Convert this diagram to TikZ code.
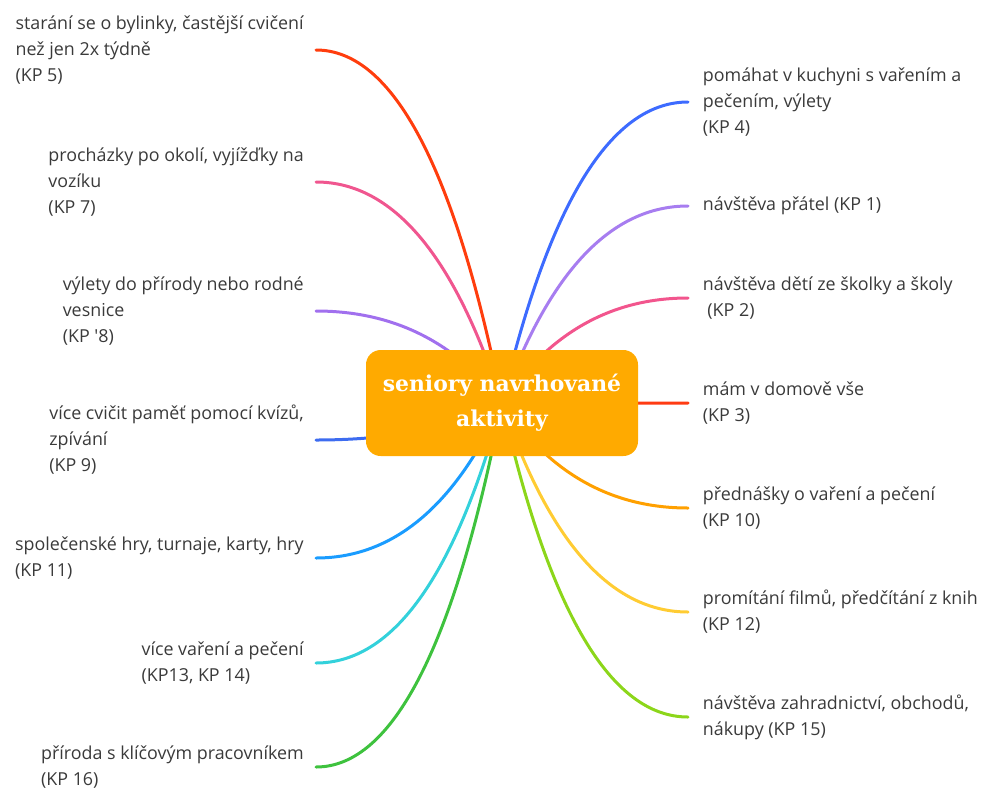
\documentclass[tikz,border=0pt]{standalone}
\usepackage{fontspec}
\setmainfont{Open Sans}
\newfontfamily\rootfont{DejaVu Serif}
\usetikzlibrary{positioning, calc, backgrounds}

\definecolor{rootorange}{HTML}{FFAA00}
\definecolor{leaftext}{HTML}{3A3A3A}
% branch colours, one per leaf
\definecolor{cKPv}{HTML}{FF3D0D}
\definecolor{cKPvii}{HTML}{F0568F}
\definecolor{cKPviii}{HTML}{A170EE}
\definecolor{cKPix}{HTML}{3D6CF0}
\definecolor{cKPxi}{HTML}{1A9CFF}
\definecolor{cKPxiii}{HTML}{33D1DB}
\definecolor{cKPxvi}{HTML}{3EC23E}
\definecolor{cKPiv}{HTML}{3D6BFF}
\definecolor{cKPi}{HTML}{A77DF0}
\definecolor{cKPii}{HTML}{F2558D}
\definecolor{cKPiii}{HTML}{FF3B12}
\definecolor{cKPx}{HTML}{FFA000}
\definecolor{cKPxii}{HTML}{FFCC33}
\definecolor{cKPxv}{HTML}{8CD61A}

\begin{document}
\begin{tikzpicture}[
  x=0.75pt, y=-0.75pt,
  font=\fontsize{13.4pt}{19.5pt}\selectfont,
  root/.style={fill=rootorange, rounded corners=11pt, minimum width=204pt,
    minimum height=79.5pt, text=white, align=center,
    font=\rootfont\bfseries\fontsize{16.4pt}{26pt}\selectfont},
  leafL/.style={anchor=east, align=left, inner xsep=9pt, inner ysep=0pt, text=leaftext},
  leafR/.style={anchor=west, align=left, inner xsep=11pt, inner ysep=0pt, text=leaftext},
  branch/.style={line width=2.25pt, line cap=round},
]
\useasboundingbox (0,0) rectangle (981,789);

% ---- 1. central topic ----
\node[root] (root) at (502,403) {\raisebox{-2pt}{seniory navrhované}\\\raisebox{-2pt}{aktivity}};

% ---- 2. left leaves (text ends where the branch ends) ----
\node[leafL] (kp5)  at (316,50)  {starání se o bylinky, častější cvičení\\než jen 2x týdně\\(KP 5)};
\node[leafL] (kp7)  at (316,182) {procházky po okolí, vyjížďky na\\vozíku\\(KP 7)};
\node[leafL] (kp8)  at (316,311) {výlety do přírody nebo rodné\\vesnice\\(KP \textquotesingle 8)};
\node[leafL] (kp9)  at (316,440) {více cvičit paměť pomocí kvízů,\\zpívání\\(KP 9)};
\node[leafL] (kp11) at (316,558) {společenské hry, turnaje, karty, hry\\(KP 11)};
\node[leafL] (kp13) at (316,663) {více vaření a pečení\\(KP13, KP 14)};
\node[leafL] (kp16) at (316,767) {příroda s klíčovým pracovníkem\\(KP 16)};

% ---- 3. right leaves ----
\node[leafR] (kp4)  at (688,102) {pomáhat v kuchyni s vařením a\\pečením, výlety\\(KP 4)};
\node[leafR] (kp1)  at (688,206) {návštěva přátel (KP 1)};
\node[leafR] (kp2)  at (688,298) {návštěva dětí ze školky a školy\\\hspace*{0.25em}(KP 2)};
\node[leafR] (kp3)  at (688,403) {mám v domově vše\\(KP 3)};
\node[leafR] (kp10) at (688,508) {přednášky o vaření a pečení\\(KP 10)};
\node[leafR] (kp12) at (688,612) {promítání filmů, předčítání z knih\\(KP 12)};
\node[leafR] (kp15) at (688,717) {návštěva zahradnictví, obchodů,\\nákupy (KP 15)};

% ---- 4. curved branches, behind the central box ----
% quadratic-like bend: control on the leaf's row, 62% of the way back to the root
\begin{scope}[on background layer]
\foreach \leaf/\col/\side in {kp5/cKPv/east, kp7/cKPvii/east, kp8/cKPviii/east,
    kp9/cKPix/east, kp11/cKPxi/east, kp13/cKPxiii/east, kp16/cKPxvi/east,
    kp4/cKPiv/west, kp1/cKPi/west, kp2/cKPii/west, kp3/cKPiii/west,
    kp10/cKPx/west, kp12/cKPxii/west, kp15/cKPxv/west} {
  \path (root.center |- \leaf.\side) coordinate (corner);
  \coordinate (ctrl) at ($(\leaf.\side)!0.62!(corner)$);
  \draw[branch, \col] (root.center)
    .. controls ($(root.center)!2/3!(ctrl)$) and ($(\leaf.\side)!2/3!(ctrl)$)
    .. (\leaf.\side);
}
\end{scope}

\end{tikzpicture}
\end{document}
